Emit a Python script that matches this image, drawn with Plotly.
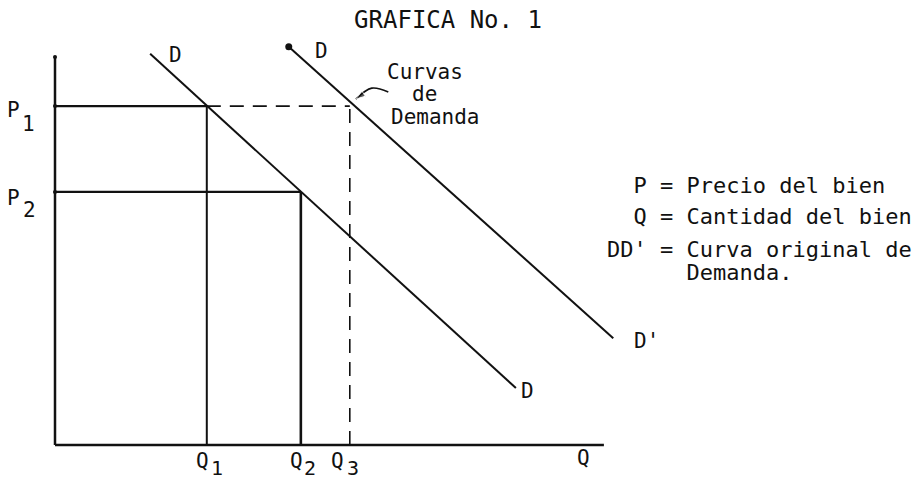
import plotly.graph_objects as go

# ---- data (conceptual units) ----
precios = [86.9, 64.9]            # P1, P2
cantidades = [27.6, 44.7, 53.6]   # Q1, Q2, Q3
demanda_D_q = [17.3, 83.8]        # curva D
demanda_D_p = [100.3, 14.6]
demanda_D2_q = [42.5, 101.5]      # curva D'
demanda_D2_p = [102.1, 27.4]
eje_q_max = 99.8
eje_p_max = 99.5
flecha_q = [60.6, 57.6, 54.7]     # curved arrow of "Curvas de Demanda"
flecha_p = [90.5, 91.5, 88.7]

leyenda = ["\u00a0\u00a0P = Precio del bien",
           "\u00a0\u00a0Q = Cantidad del bien",
           "DD' = Curva original de",
           "\u00a0\u00a0\u00a0\u00a0\u00a0\u00a0Demanda."]

# ---- geometry of the page ----
W, H = 923, 479
OX, OY, SX, SY = 55, 445, 5.5, 3.9   # pixel origin and px per unit


def px2x(px):
    return (px - OX) / SX


def px2y(py):
    return (OY - py) / SY


P1, P2 = precios
Q1, Q2, Q3 = cantidades
FONT = "DejaVu Sans Mono"
BLACK = "#111111"

fig = go.Figure()


def seg(xs, ys, width=2.0, dash=None):
    fig.add_trace(go.Scatter(x=xs, y=ys, mode="lines",
                             line=dict(color=BLACK, width=width, dash=dash),
                             hoverinfo="skip"))


# axes
seg([0, 0], [0, eje_p_max], width=2.5)
seg([0, eje_q_max], [0, 0], width=2.5)
# price lines
seg([0, Q1], [P1, P1], width=2.2)
seg([Q1, Q3], [P1, P1], width=1.6, dash="14px,9px")
seg([0, Q2], [P2, P2], width=2.2)
# quantity lines
seg([Q1, Q1], [0, P1], width=2.0)
seg([Q2, Q2], [0, P2], width=2.6)
seg([Q3, Q3], [0, P1], width=1.6, dash="14px,9px")
# demand curves
seg(demanda_D_q, demanda_D_p, width=2.0)
seg(demanda_D2_q, demanda_D2_p, width=2.0)
fig.add_trace(go.Scatter(x=[demanda_D2_q[0]], y=[demanda_D2_p[0]], mode="markers",
                         marker=dict(color=BLACK, size=7), hoverinfo="skip"))
# small dots at the ends of the axes / price lines
fig.add_trace(go.Scatter(x=[0, 0, 0], y=[eje_p_max, P1, P2], mode="markers",
                         marker=dict(color=BLACK, size=4), hoverinfo="skip"))
# curved arrow
fig.add_trace(go.Scatter(x=flecha_q, y=flecha_p, mode="lines+markers",
                         line=dict(color=BLACK, width=1.6, shape="spline"),
                         marker=dict(symbol="arrow", angleref="previous",
                                     size=[0, 0, 10], color=BLACK),
                         hoverinfo="skip"))

ann = []


def lbl(x, y, text, dx=0, dy=0, size=21, xanchor="center"):
    ann.append(dict(x=x, y=y, xref="x", yref="y", text=text, showarrow=False,
                    xshift=dx, yshift=-dy, xanchor=xanchor, yanchor="middle",
                    font=dict(family=FONT, size=size, color=BLACK)))


# P labels
lbl(0, P1, "P", -42, 4)
lbl(0, P1, "1", -27, 18)
lbl(0, P2, "P", -42, 6)
lbl(0, P2, "2", -26, 18)
# Q labels
lbl(Q1, 0, "Q", -4, 16)
lbl(Q1, 0, "1", 10, 23, size=20)
lbl(Q2, 0, "Q", -4, 16)
lbl(Q2, 0, "2", 9, 23, size=20)
lbl(Q3, 0, "Q", -12, 16)
lbl(Q3, 0, "3", 3, 23, size=20)
lbl(eje_q_max, 0, "Q", -20, 13)
# D labels
lbl(demanda_D_q[0], demanda_D_p[0], "D", 25, 1)
lbl(demanda_D2_q[0], demanda_D2_p[0], "D", 33, 4)
lbl(demanda_D_q[1], demanda_D_p[1], "D", 12, 3)
lbl(demanda_D2_q[1], demanda_D2_p[1], "D'", 33, 3)
# Curvas de Demanda
lbl(px2x(385), px2y(72), "Curvas", xanchor="left")
lbl(px2x(410), px2y(94), "de", xanchor="left")
lbl(px2x(389), px2y(117), "Demanda", xanchor="left")
# legend block
for txt, yy in zip(leyenda, [185, 216, 249, 272]):
    lbl(px2x(605), px2y(yy), txt, size=22, xanchor="left")

fig.update_layout(
    width=W, height=H, autosize=False,
    margin=dict(l=0, r=0, t=0, b=0),
    paper_bgcolor="white", plot_bgcolor="white",
    showlegend=False,
    title=dict(text="GRAFICA No. 1", x=448 / W, y=1 - 20 / H,
               xanchor="center", yanchor="middle",
               font=dict(family=FONT, size=24, color=BLACK)),
    xaxis=dict(range=[px2x(0), px2x(W)], visible=False, fixedrange=True),
    yaxis=dict(range=[px2y(H), px2y(0)], visible=False, fixedrange=True),
    annotations=ann,
)

fig.write_html("out.html",
               config={"displayModeBar": False, "staticPlot": True},
               post_script="document.body.style.margin='0';"
                           "document.body.style.overflow='hidden';")
